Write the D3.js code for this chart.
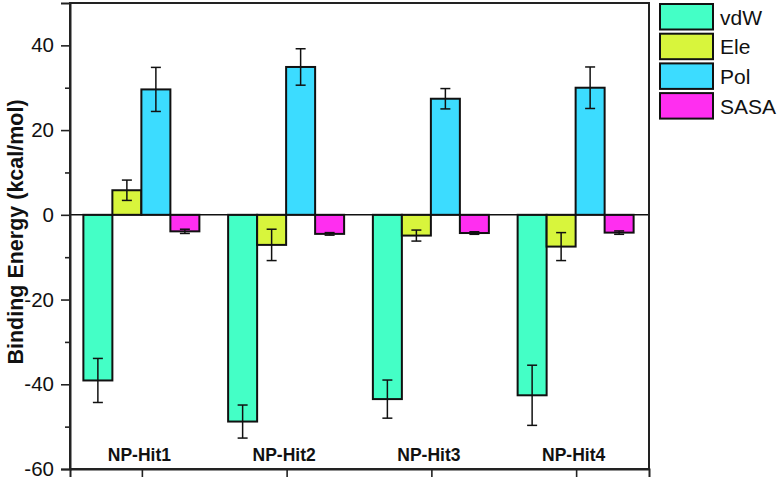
<!DOCTYPE html>
<html>
<head>
<meta charset="utf-8">
<script src="https://cdn.jsdelivr.net/npm/d3@7"></script>
<style>
  html, body { margin: 0; padding: 0; background: #fff; }
  svg { display: block; }
  text { font-family: "Liberation Sans", Arial, sans-serif; }
</style>
</head>
<body>
<div id="chart"></div>
<script>
// ---- data ----
const categories = ["NP-Hit1", "NP-Hit2", "NP-Hit3", "NP-Hit4"];
const seriesNames = ["vdW", "Ele", "Pol", "SASA"];
const vdW     = [-39.1, -48.8, -43.5, -42.6];
const vdWErr  = [5.2, 3.9, 4.5, 7.1];
const Ele     = [5.8, -7.1, -4.9, -7.5];
const EleErr  = [2.4, 3.7, 1.3, 3.3];
const Pol     = [29.6, 34.9, 27.4, 30.0];
const PolErr  = [5.2, 4.3, 2.4, 4.9];
const SASA    = [-3.9, -4.5, -4.3, -4.2];
const SASAErr = [0.5, 0.3, 0.3, 0.4];
const yTicks = [-60, -40, -20, 0, 20, 40];
const yMinorTicks = [-50, -30, -10, 10, 30];
const yTitle = "Binding Energy (kcal/mol)";

const colors = { vdW: "#44ffc6", Ele: "#d8f53c", Pol: "#3cdcff", SASA: "#ff2ef0" };
const values = { vdW, Ele, Pol, SASA };
const errs = { vdW: vdWErr, Ele: EleErr, Pol: PolErr, SASA: SASAErr };

const W = 781, H = 481;
const L = 70, R = 649, T = 3, B = 469;

const svg = d3.select("#chart").append("svg").attr("width", W).attr("height", H);

const y = d3.scaleLinear().domain([-60, 50]).range([B, T]);
const x0 = d3.scaleBand().domain(categories).range([L, R]).paddingInner(0).paddingOuter(0);
const x1 = d3.scaleBand().domain(seriesNames).range([-58, 58]).paddingInner(0);

// bars
const rows = [];
categories.forEach((c, i) => {
  seriesNames.forEach(s => rows.push({ c, s, v: values[s][i], e: errs[s][i] }));
});
const cx = d => x0(d.c) + x0.bandwidth() / 2 - 1;

svg.append("g").selectAll("rect").data(rows).join("rect")
  .attr("x", d => cx(d) + x1(d.s))
  .attr("width", x1.bandwidth())
  .attr("y", d => y(Math.max(0, d.v)))
  .attr("height", d => Math.abs(y(d.v) - y(0)))
  .attr("fill", d => colors[d.s])
  .attr("stroke", "#111")
  .attr("stroke-width", 2);

// error bars
const eg = svg.append("g").attr("stroke", "#111").attr("stroke-width", 1.5);
rows.forEach(d => {
  const xm = cx(d) + x1(d.s) + x1.bandwidth() / 2;
  const y1 = y(d.v + d.e), y2 = y(d.v - d.e);
  eg.append("line").attr("x1", xm).attr("x2", xm).attr("y1", y1).attr("y2", y2);
  eg.append("line").attr("x1", xm - 5).attr("x2", xm + 5).attr("y1", y1).attr("y2", y1);
  eg.append("line").attr("x1", xm - 5).attr("x2", xm + 5).attr("y1", y2).attr("y2", y2);
});

// zero line
svg.append("line").attr("x1", L).attr("x2", R).attr("y1", y(0)).attr("y2", y(0))
  .attr("stroke", "#111").attr("stroke-width", 1.6);

// frame
svg.append("rect").attr("x", L).attr("y", T).attr("width", R - L).attr("height", B - T)
  .attr("fill", "none").attr("stroke", "#222").attr("stroke-width", 2);

// y axis
const yAxis = d3.axisLeft(y).tickValues(yTicks).tickSize(9).tickPadding(7).tickFormat(d => String(d));
const gy = svg.append("g").attr("transform", `translate(${L},0)`).call(yAxis);
gy.select(".domain").attr("stroke", "#222").attr("stroke-width", 2);
gy.selectAll(".tick line").attr("stroke", "#222").attr("stroke-width", 1.6);
gy.selectAll(".tick text").attr("font-size", 20.5).attr("fill", "#111")
  .attr("font-family", "'Liberation Sans', Arial, sans-serif");
const gym = svg.append("g").attr("transform", `translate(${L},0)`)
  .call(d3.axisLeft(y).tickValues(yMinorTicks).tickSize(5).tickFormat(""));
gym.select(".domain").remove();
gym.selectAll(".tick line").attr("stroke", "#222").attr("stroke-width", 1.6);

// x axis ticks
const gx = svg.append("g").attr("transform", `translate(0,${B})`)
  .call(d3.axisBottom(x0).tickSize(8).tickFormat(""));
gx.select(".domain").attr("stroke", "#222").attr("stroke-width", 2);
gx.selectAll(".tick line").attr("stroke", "#222").attr("stroke-width", 1.6);

// category labels inside plot
svg.append("g").selectAll("text").data(categories).join("text")
  .attr("x", c => x0(c) + x0.bandwidth() / 2 - 3)
  .attr("y", 461)
  .attr("text-anchor", "middle")
  .attr("font-size", 17.5).attr("font-weight", "bold").attr("fill", "#111")
  .text(c => c);

// y title
svg.append("text")
  .attr("transform", `translate(23,${(T + B) / 2 - 4}) rotate(-90)`)
  .attr("text-anchor", "middle")
  .attr("font-size", 21.5).attr("font-weight", "bold").attr("fill", "#111")
  .text(yTitle);

// legend
const lg = svg.append("g");
seriesNames.forEach((s, i) => {
  const yy = 4 + i * 29.7;
  lg.append("rect").attr("x", 660).attr("y", yy).attr("width", 53).attr("height", 25.5)
    .attr("fill", colors[s]).attr("stroke", "#111").attr("stroke-width", 2);
  lg.append("text").attr("x", 720).attr("y", yy + 13).attr("dy", "0.36em")
    .attr("font-size", 21).attr("fill", "#111").text(s);
});
</script>
</body>
</html>
